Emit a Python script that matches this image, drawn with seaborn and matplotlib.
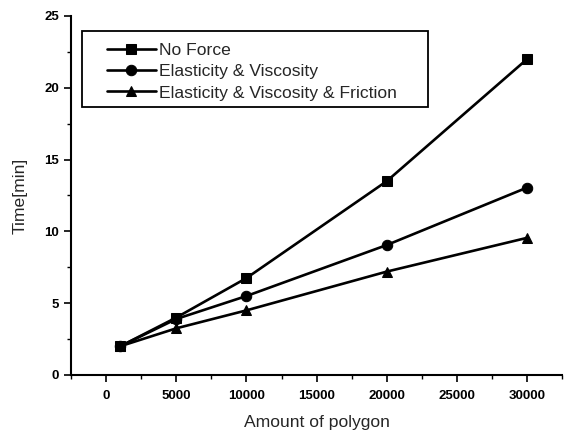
import matplotlib
matplotlib.use("Agg")
import matplotlib.pyplot as plt
import seaborn as sns
import pandas as pd
from matplotlib.ticker import MultipleLocator
from matplotlib.patches import Rectangle

sns.set_style("ticks")
plt.rcParams['font.family'] = ['Liberation Sans', 'DejaVu Sans']

polygons = [1000, 5000, 10000, 20000, 30000]
no_force = [2.0, 4.0, 6.75, 13.5, 22.0]
elast_visc = [2.0, 3.9, 5.5, 9.05, 13.05]
elast_visc_fric = [2.0, 3.25, 4.5, 7.2, 9.55]
series_names = ["No Force", "Elasticity & Viscosity", "Elasticity & Viscosity & Friction"]

df = pd.DataFrame({
    "Amount of polygon": polygons * 3,
    "Time[min]": no_force + elast_visc + elast_visc_fric,
    "Series": [series_names[0]] * 5 + [series_names[1]] * 5 + [series_names[2]] * 5,
})

fig = plt.figure(figsize=(5.69, 4.32), dpi=100)
ax = fig.add_axes([0.125, 0.132, 0.863, 0.831])

sns.lineplot(data=df, x="Amount of polygon", y="Time[min]", hue="Series", style="Series",
             markers=["s", "o", "^"], dashes=False, palette=["black"] * 3,
             markersize=7.5, linewidth=1.9, markeredgecolor="black", ax=ax)

ax.set_xlim(-2500, 32500)
ax.set_ylim(0, 25)
ax.xaxis.set_major_locator(MultipleLocator(5000))
ax.xaxis.set_minor_locator(MultipleLocator(2500))
ax.yaxis.set_major_locator(MultipleLocator(5))
ax.yaxis.set_minor_locator(MultipleLocator(2.5))
ax.tick_params(which="major", direction="out", length=5, width=1.2, colors="black", labelsize=9.5)
ax.tick_params(which="minor", direction="out", length=3, width=1.0, colors="black")
for lab in ax.get_xticklabels() + ax.get_yticklabels():
    lab.set_fontweight("bold")
ax.tick_params(axis="x", pad=6)

for s in ["top", "right"]:
    ax.spines[s].set_visible(False)
for s in ["left", "bottom"]:
    ax.spines[s].set_linewidth(1.5)
    ax.spines[s].set_color("black")

ax.set_xlabel("Amount of polygon", fontsize=12.6, labelpad=9)
ax.set_ylabel("Time[min]", fontsize=12.6, labelpad=12)

leg = ax.legend(loc="upper left", bbox_to_anchor=(0.073, 0.926), frameon=False,
                fontsize=12.6, handlelength=2.8, borderpad=0,
                labelspacing=0.35, handletextpad=0.15, borderaxespad=0)

box = Rectangle((0.022, 0.746), 0.705, 0.212, transform=ax.transAxes, fill=False,
                edgecolor="black", linewidth=1.3, zorder=5)
ax.add_patch(box)

fig.savefig("out.png", dpi=100)
